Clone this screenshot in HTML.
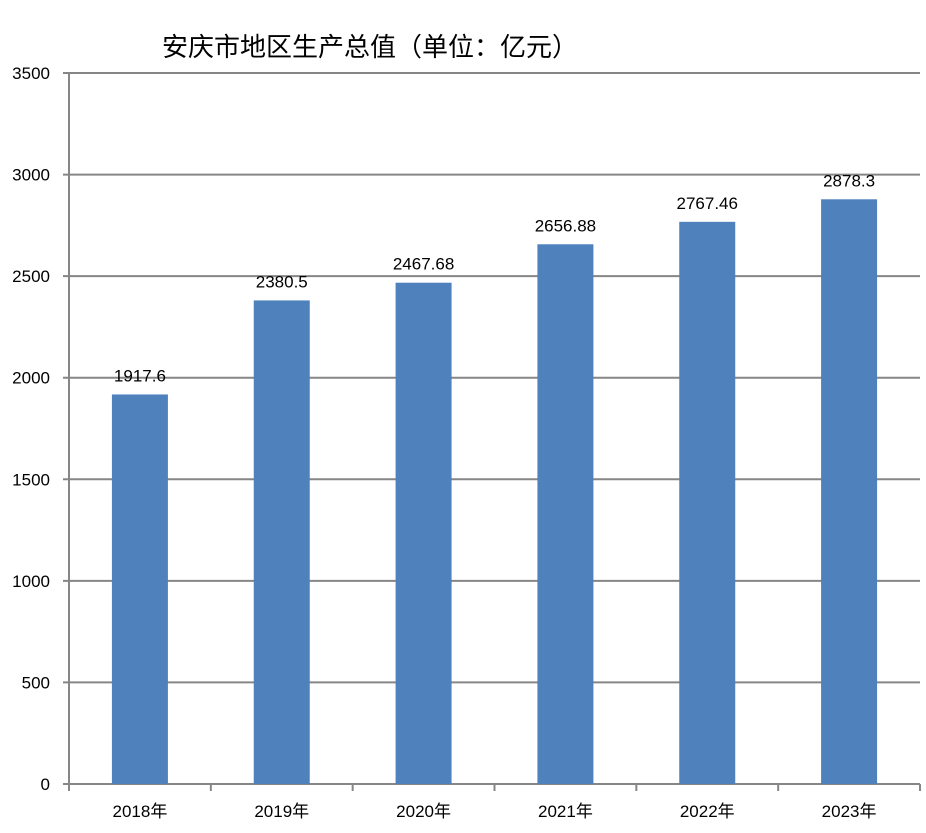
<!DOCTYPE html>
<html><head><meta charset="utf-8"><style>
body{margin:0;background:#fff;}
svg{display:block;font-family:"Liberation Sans","Noto Sans CJK SC",sans-serif;}
</style></head><body>
<svg id="chart" width="926" height="833">
<text x="370" y="56" font-size="26" text-anchor="middle" fill="#000">安庆市地区生产总值（单位：亿元）</text>
</svg>
<script>
const categories=["2018年","2019年","2020年","2021年","2022年","2023年"];
const values=[1917.6,2380.5,2467.68,2656.88,2767.46,2878.3];
const valueLabels=["1917.6","2380.5","2467.68","2656.88","2767.46","2878.3"];
const yTicks=[0,500,1000,1500,2000,2500,3000,3500];
const svg=document.getElementById('chart');
const NS='http://www.w3.org/2000/svg';
const x0=69,x1=920,y0=784,yTop=73,yMax=3500;
const y=v=>y0-(v/yMax)*(y0-yTop);
const band=(x1-x0)/categories.length;
const xc=i=>x0+band*(i+0.5);
function mk(tag,attrs){const e=document.createElementNS(NS,tag);for(const k in attrs)e.setAttribute(k,attrs[k]);svg.appendChild(e);return e;}
yTicks.forEach(t=>{
  const g=mk('line',{x1:63,x2:x1,y1:y(t),y2:y(t),stroke:'#868686','stroke-width':2});
  
  
  const tx=mk('text',{x:50,y:y(t)+6,'font-size':17,'text-anchor':'end',fill:'#000'});
  tx.textContent=t;
  
  
});
const ax=mk('line',{x1:x0,x2:x0,y1:yTop,y2:y0,stroke:'#868686','stroke-width':2});


for(let i=0;i<=categories.length;i++){
  const tk=mk('line',{x1:x0+band*i,x2:x0+band*i,y1:y0,y2:y0+7,stroke:'#868686','stroke-width':2});
  
  
}
categories.forEach((c,i)=>{
  const bw=56;
  const b=mk('rect',{x:xc(i)-bw/2,y:y(values[i]),width:bw,height:y0-y(values[i]),fill:'#4F81BD'});
  
  
  const lb=mk('text',{x:xc(i),y:y(values[i])-13,'font-size':17,'text-anchor':'middle',fill:'#000'});
  lb.textContent=valueLabels[i];
  
  
  const cl=mk('text',{x:xc(i),y:817,'font-size':17,'text-anchor':'middle',fill:'#000'});
  cl.textContent=c;
  
  
});
</script>
</body></html>
